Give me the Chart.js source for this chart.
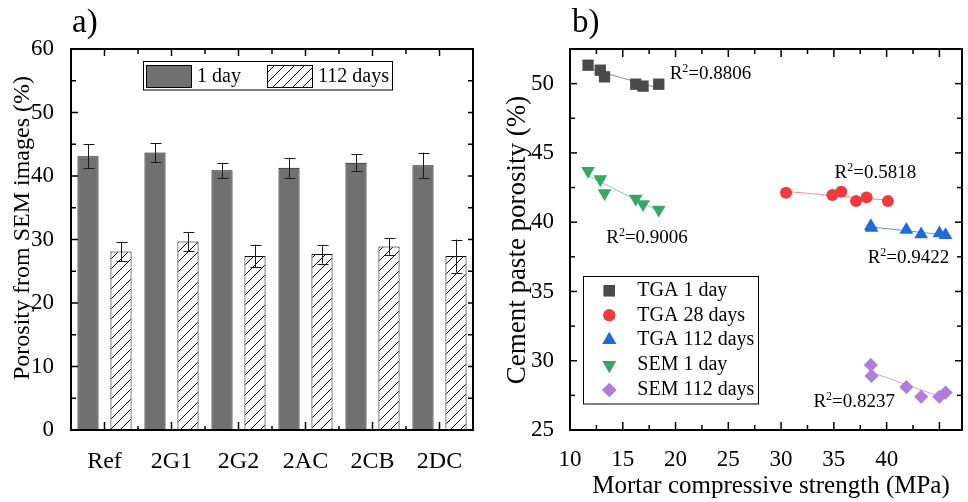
<!DOCTYPE html>
<html><head><meta charset="utf-8">
<script src="https://cdn.jsdelivr.net/npm/chart.js@4.4.1/dist/chart.umd.min.js"></script>
<style>
html,body{margin:0;padding:0;background:#fff;overflow:hidden;width:968px;height:502px;}
#ca{position:absolute;left:0;top:0;}
#cb{position:absolute;left:480px;top:0;}
</style></head><body>
<canvas id="ca" width="484" height="502"></canvas>
<canvas id="cb" width="490" height="502"></canvas>
<script>
// ---- panel a) data ----
const categories = ['Ref','2G1','2G2','2AC','2CB','2DC'];
const day1 = [43.1,43.7,40.9,41.3,42.1,41.7];
const day1Err = [1.9,1.5,1.2,1.6,1.35,2.0];
const day112 = [28.1,29.7,27.4,27.7,28.9,27.4];
const day112Err = [1.5,1.5,1.8,1.5,1.3,2.6];
const seriesNamesA = ['1 day','112 days'];

// ---- panel b) data ----
const strength1 = [11.71,12.87,13.27,16.23,16.92,18.41];
const tga1 = [51.33,50.97,50.49,49.96,49.82,49.96];
const strength28 = [30.47,34.86,35.7,37.1,38.1,40.12];
const tga28 = [42.12,41.96,42.2,41.52,41.79,41.52];
const strength112 = [38.5,38.57,41.87,43.27,45.0,45.58];
const tga112 = [39.72,39.6,39.45,39.12,39.19,39.07];
const sem1 = [43.7,43.1,42.1,41.7,41.3,40.9];
const sem112 = [29.7,28.9,28.1,27.4,27.4,27.7];
const seriesNamesB = ['TGA 1 day','TGA 28 days','TGA 112 days','SEM 1 day','SEM 112 days'];
const r2Values = ['0.8806','0.5818','0.9422','0.9006','0.8237'];
const r2AtX = [19.44,35.07,38.2,13.43,33.06];
const r2AtY = [50.30,43.16,37.03,38.51,26.68];

const SERIF = '"Liberation Serif","Times New Roman",serif';

// hatch pattern
const caCtx = document.getElementById('ca').getContext('2d');
function makeHatch(){
  const c = document.createElement('canvas'); c.width = 10; c.height = 10;
  const g = c.getContext('2d');
  g.fillStyle = '#fff'; g.fillRect(0,0,10,10);
  g.strokeStyle = '#000'; g.lineWidth = 1;
  g.beginPath(); g.moveTo(-2,12); g.lineTo(12,-2); g.stroke();
  g.beginPath(); g.moveTo(-2,2); g.lineTo(2,-2); g.stroke();
  g.beginPath(); g.moveTo(8,12); g.lineTo(12,8); g.stroke();
  return caCtx.createPattern(c,'repeat');
}
const hatch = makeHatch();

function tickLine(ctx,x1,y1,x2,y2){ctx.beginPath();ctx.moveTo(x1,y1);ctx.lineTo(x2,y2);ctx.stroke();}

// ---------- panel a ----------
const panelA = {
  id:'panelA',
  afterDatasetsDraw(chart){
    const ctx = chart.ctx, ca = chart.chartArea, xs = chart.scales.x, ys = chart.scales.y;
    ctx.save();
    // error bars
    ctx.strokeStyle = '#1a1a1a'; ctx.lineWidth = 1;
    chart.data.datasets.forEach((ds,di)=>{
      const meta = chart.getDatasetMeta(di);
      meta.data.forEach((el,i)=>{
        const v = ds.data[i], e = ds.errors[i];
        const yt = ys.getPixelForValue(v+e), yb = ys.getPixelForValue(v-e), x = Math.round(el.x)+0.5;
        tickLine(ctx,x,yt,x,yb);
        tickLine(ctx,x-5,Math.round(yt)+0.5,x+6,Math.round(yt)+0.5);
        tickLine(ctx,x-5,Math.round(yb)+0.5,x+6,Math.round(yb)+0.5);
      });
    });
    // frame
    ctx.strokeStyle = '#000'; ctx.lineWidth = 2;
    ctx.strokeRect(ca.left, ca.top, ca.right-ca.left, ca.bottom-ca.top);
    ctx.lineWidth = 1.5;
    // y ticks
    for(let v=0; v<=60; v+=5){
      const y = ys.getPixelForValue(v), major = v%10===0;
      tickLine(ctx, ca.left, y, ca.left+(major?7:5), y);
      tickLine(ctx, ca.right, y, ca.right-5, y);
    }
    // x ticks
    for(let i=0;i<categories.length;i++){
      const x = xs.getPixelForValue(i);
      tickLine(ctx, x, ca.bottom, x, ca.bottom-8);
      tickLine(ctx, x, ca.top, x, ca.top+7);
      if(i>0){
        const xb = (xs.getPixelForValue(i-1)+x)/2;
        tickLine(ctx, xb, ca.bottom, xb, ca.bottom-4);
        tickLine(ctx, xb, ca.top, xb, ca.top+5);
      }
    }
    // legend
    ctx.lineWidth = 1;
    ctx.fillStyle = '#fff';
    ctx.fillRect(143.5,61.5,249,28.5);
    ctx.strokeRect(143.5,61.5,249,28.5);
    ctx.fillStyle = '#707070'; ctx.fillRect(146.5,65.5,45,22); ctx.strokeRect(146.5,65.5,45,22);
    ctx.fillStyle = hatch; ctx.fillRect(267.5,65.5,45,22); ctx.strokeRect(267.5,65.5,45,22);
    ctx.fillStyle = '#000'; ctx.font = '20px '+SERIF; ctx.textBaseline = 'middle'; ctx.textAlign='left';
    ctx.fillText(seriesNamesA[0], 197, 77);
    ctx.fillText(seriesNamesA[1], 318, 77);
    // titles
    ctx.font = '33px '+SERIF; ctx.textBaseline='alphabetic';
    ctx.fillText('a)', 72, 32);
    ctx.translate(23, 228); ctx.rotate(-Math.PI/2);
    ctx.font = '24px '+SERIF; ctx.textAlign='center'; ctx.textBaseline='middle';
    ctx.fillText('Porosity from SEM images (%)', 0, 0);
    ctx.restore();
  }
};

new Chart(document.getElementById('ca'), {
  type:'bar',
  data:{labels:categories, datasets:[
    {label:seriesNamesA[0], data:day1, errors:day1Err, backgroundColor:'#707070', borderColor:'#000', borderWidth:1},
    {label:seriesNamesA[1], data:day112, errors:day112Err, backgroundColor:hatch, borderColor:'#000', borderWidth:1}
  ]},
  options:{
    responsive:false, animation:false, devicePixelRatio:1,
    categoryPercentage:0.985, barPercentage:0.64,
    layout:{padding:{left:0,right:11,top:49,bottom:0}},
    plugins:{legend:{display:false}, tooltip:{enabled:false}},
    scales:{
      x:{grid:{display:false}, border:{display:false},
         ticks:{color:'#000', font:{family:SERIF,size:24}, padding:9, maxRotation:0},
         afterFit(s){s.height=72;}},
      y:{min:0,max:60, grid:{display:false}, border:{display:false},
         ticks:{stepSize:10,color:'#000', font:{family:SERIF,size:23}, padding:9},
         afterFit(s){s.width=71;}}
    }
  },
  plugins:[panelA]
});

// ---------- panel b ----------
function fit(xs, ys){
  const n = xs.length; let sx=0,sy=0,sxx=0,sxy=0;
  for(let i=0;i<n;i++){sx+=xs[i];sy+=ys[i];sxx+=xs[i]*xs[i];sxy+=xs[i]*ys[i];}
  const b=(n*sxy-sx*sy)/(n*sxx-sx*sx), a=(sy-b*sx)/n;
  const x0=Math.min(...xs), x1=Math.max(...xs);
  return [{x:x0,y:a+b*x0},{x:x1,y:a+b*x1}];
}
const pts = (xs,ys)=>xs.map((x,i)=>({x, y:ys[i]}));
const styleB = [
  {color:'#4a4a4a', line:'#8c8c8c', style:'rect', r:8, rot:0},
  {color:'#ef3b3b', line:'#f39090', style:'circle', r:6, rot:0},
  {color:'#1c6cdb', line:'#5596e6', style:'triangle', r:7.9, rot:0},
  {color:'#38a766', line:'#86d1a5', style:'triangle', r:7.9, rot:180},
  {color:'#b07ce0', line:'#c9a2ec', style:'rectRot', r:7.1, rot:0}
];
const xB = [strength1, strength28, strength112, strength1, strength112];
const yB = [tga1, tga28, tga112, sem1, sem112];
const dsB = [];
xB.forEach((xs,i)=>{
  const s = styleB[i];
  dsB.push({type:'line', label:'fit'+i, data:fit(xs,yB[i]), borderColor:s.line, borderWidth:1, pointRadius:0, order:10});
});
xB.forEach((xs,i)=>{
  const s = styleB[i];
  dsB.push({type:'scatter', label:seriesNamesB[i], data:pts(xs,yB[i]), backgroundColor:s.color, borderColor:s.color, borderWidth:0,
    pointStyle:s.style, pointRadius:s.r, rotation:s.rot, order:1});
});

function marker(ctx, style, r, rot, x, y, color){
  ctx.fillStyle=color; ctx.strokeStyle=color;
  if(Chart.helpers && Chart.helpers.drawPoint){
    Chart.helpers.drawPoint(ctx,{pointStyle:style, radius:r, rotation:rot, borderWidth:0}, x, y);
    ctx.fill();
    return;
  }
  ctx.beginPath(); ctx.arc(x,y,r,0,Math.PI*2); ctx.fill();
}

const panelB = {
  id:'panelB',
  afterDatasetsDraw(chart){
    const ctx = chart.ctx, ca = chart.chartArea, xs = chart.scales.x, ys = chart.scales.y;
    ctx.save();
    ctx.strokeStyle='#000'; ctx.lineWidth=2;
    ctx.strokeRect(ca.left, ca.top, ca.right-ca.left, ca.bottom-ca.top);
    ctx.lineWidth=1.5;
    for(let v=25; v<52.5; v+=2.5){
      const y = ys.getPixelForValue(v), major = v%5===0;
      if(v>25){
        tickLine(ctx, ca.left, y, ca.left+(major?7:5), y);
        tickLine(ctx, ca.right, y, ca.right-(major?7:5), y);
      }
    }
    for(let v=12.5; v<xs.max; v+=2.5){
      const x = xs.getPixelForValue(v), major = v%5===0;
      tickLine(ctx, x, ca.bottom, x, ca.bottom-(major?8:5));
      tickLine(ctx, x, ca.top, x, ca.top+(major?8:5));
    }
    // R^2 annotations
    ctx.fillStyle='#000'; ctx.textAlign='left'; ctx.textBaseline='alphabetic';
    r2Values.forEach((t,i)=>{
      let x = xs.getPixelForValue(r2AtX[i]), y = ys.getPixelForValue(r2AtY[i]);
      ctx.font='19px '+SERIF; ctx.fillText('R',x,y); x += ctx.measureText('R').width;
      ctx.font='12px '+SERIF; ctx.fillText('2',x,y-7); x += ctx.measureText('2').width;
      ctx.font='19px '+SERIF; ctx.fillText('='+t,x,y);
    });
    // legend
    ctx.lineWidth=1; ctx.strokeStyle='#000';
    ctx.fillStyle='#fff'; ctx.fillRect(103.5,276.5,175,127.5); ctx.strokeRect(103.5,276.5,175,127.5);
    const rowsY=[290.7,315.3,340,365,390];
    seriesNamesB.forEach((n,i)=>{
      const s=styleB[i];
      marker(ctx, s.style, s.r, s.rot, 129.3, rowsY[i], s.color);
      ctx.fillStyle='#000'; ctx.font='20px '+SERIF; ctx.textBaseline='middle';
      ctx.fillText(n, 157.3, rowsY[i]);
    });
    // titles
    ctx.textBaseline='alphabetic'; ctx.font='33px '+SERIF;
    ctx.fillText('b)', 92, 32);
    ctx.font='25px '+SERIF; ctx.textAlign='center'; ctx.textBaseline='middle';
    ctx.fillText('Mortar compressive strength (MPa)', 291, 486);
    ctx.translate(38,240); ctx.rotate(-Math.PI/2);
    ctx.font='27px '+SERIF;
    ctx.fillText('Cement paste porosity (%)',0,0);
    ctx.restore();
  }
};

const keep5 = s => { s.ticks = s.ticks.filter(t => Math.abs(t.value/5 - Math.round(t.value/5)) < 1e-9); };
new Chart(document.getElementById('cb'), {
  type:'scatter',
  data:{datasets:dsB},
  options:{
    responsive:false, animation:false, devicePixelRatio:1,
    layout:{padding:{left:0,right:1,top:49,bottom:0}},
    plugins:{legend:{display:false}, tooltip:{enabled:false}},
    scales:{
      x:{type:'linear', min:10, max:47.14, grid:{display:false}, border:{display:false},
         ticks:{stepSize:5, color:'#000', font:{family:SERIF,size:23}, padding:8, maxRotation:0},
         afterBuildTicks:keep5, afterFit(s){s.height=72;}},
      y:{type:'linear', min:25, max:52.5, grid:{display:false}, border:{display:false},
         ticks:{stepSize:5, color:'#000', font:{family:SERIF,size:23}, padding:8},
         afterBuildTicks:keep5, afterFit(s){s.width=90;}}
    }
  },
  plugins:[panelB]
});
</script>
</body></html>
